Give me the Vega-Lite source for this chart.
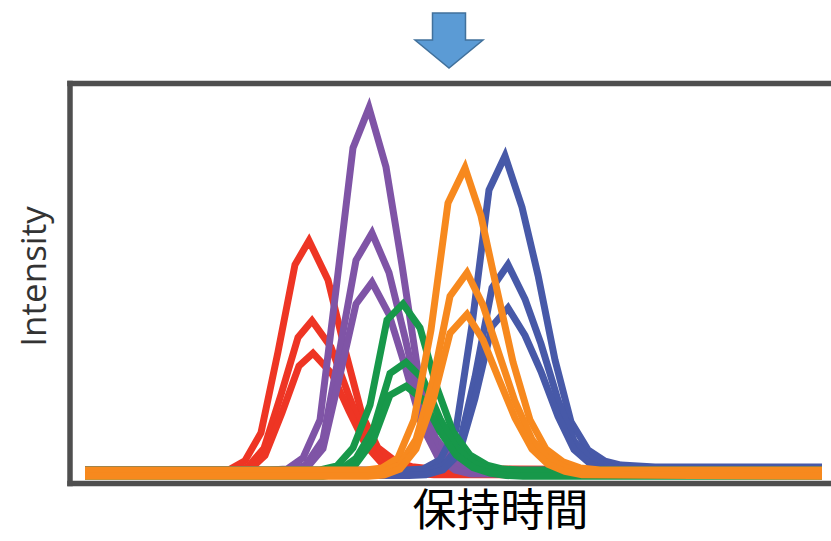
{
  "$schema": "https://vega.github.io/schema/vega-lite/v6.json",
  "width": 761,
  "height": 400,
  "autosize": {"type": "none"},
  "padding": {"left": 70, "top": 83.5, "right": 0, "bottom": 57.5},
  "background": "white",
  "config": {"view": {"stroke": null}},
  "datasets": {
    "traces": [
      {"s":"r1","g":"red","t":1.5,"i":3.4},{"s":"r1","g":"red","t":15.9,"i":3.4},{"s":"r1","g":"red","t":17.5,"i":5.7},{"s":"r1","g":"red","t":19.1,"i":12.7},{"s":"r1","g":"red","t":20.8,"i":32.9},{"s":"r1","g":"red","t":22.5,"i":54.7},{"s":"r1","g":"red","t":23.9,"i":60.7},{"s":"r1","g":"red","t":25.8,"i":50.9},{"s":"r1","g":"red","t":27.5,"i":33.4},{"s":"r1","g":"red","t":29.2,"i":17.2},{"s":"r1","g":"red","t":30.8,"i":8.9},{"s":"r1","g":"red","t":32.5,"i":5.7},{"s":"r1","g":"red","t":34.2,"i":4.2},{"s":"r1","g":"red","t":36.0,"i":3.7},{"s":"r1","g":"red","t":75.2,"i":3.4},
      {"s":"r2","g":"red","t":1.5,"i":2.7},{"s":"r2","g":"red","t":16.2,"i":2.7},{"s":"r2","g":"red","t":17.8,"i":4.2},{"s":"r2","g":"red","t":19.4,"i":8.8},{"s":"r2","g":"red","t":21.1,"i":22.2},{"s":"r2","g":"red","t":22.8,"i":36.5},{"s":"r2","g":"red","t":24.2,"i":40.7},{"s":"r2","g":"red","t":26.1,"i":34.1},{"s":"r2","g":"red","t":27.8,"i":22.5},{"s":"r2","g":"red","t":29.5,"i":11.8},{"s":"r2","g":"red","t":31.1,"i":6.3},{"s":"r2","g":"red","t":32.8,"i":4.2},{"s":"r2","g":"red","t":34.5,"i":3.2},{"s":"r2","g":"red","t":36.3,"i":2.9},{"s":"r2","g":"red","t":75.2,"i":2.7},
      {"s":"r3","g":"red","t":1.5,"i":2.0},{"s":"r3","g":"red","t":16.3,"i":2.0},{"s":"r3","g":"red","t":17.9,"i":3.3},{"s":"r3","g":"red","t":19.5,"i":7.0},{"s":"r3","g":"red","t":21.2,"i":17.7},{"s":"r3","g":"red","t":22.9,"i":29.4},{"s":"r3","g":"red","t":24.3,"i":32.6},{"s":"r3","g":"red","t":26.2,"i":27.4},{"s":"r3","g":"red","t":27.9,"i":18.1},{"s":"r3","g":"red","t":29.6,"i":9.5},{"s":"r3","g":"red","t":31.2,"i":5.0},{"s":"r3","g":"red","t":32.9,"i":3.3},{"s":"r3","g":"red","t":34.6,"i":2.5},{"s":"r3","g":"red","t":36.4,"i":2.2},{"s":"r3","g":"red","t":75.2,"i":2.0},

      {"s":"p1","g":"purple","t":1.5,"i":3.4},{"s":"p1","g":"purple","t":20.0,"i":3.4},{"s":"p1","g":"purple","t":21.7,"i":3.6},{"s":"p1","g":"purple","t":23.3,"i":6.4},{"s":"p1","g":"purple","t":25.0,"i":15.9},{"s":"p1","g":"purple","t":26.6,"i":48.4},{"s":"p1","g":"purple","t":28.3,"i":83.9},{"s":"p1","g":"purple","t":29.9,"i":93.9},{"s":"p1","g":"purple","t":31.6,"i":79.1},{"s":"p1","g":"purple","t":33.2,"i":54.6},{"s":"p1","g":"purple","t":34.9,"i":26.4},{"s":"p1","g":"purple","t":36.5,"i":11.6},{"s":"p1","g":"purple","t":38.2,"i":5.9},{"s":"p1","g":"purple","t":39.8,"i":3.9},{"s":"p1","g":"purple","t":42.0,"i":3.4},{"s":"p1","g":"purple","t":75.2,"i":3.4},
      {"s":"p2","g":"purple","t":1.5,"i":2.7},{"s":"p2","g":"purple","t":20.3,"i":2.7},{"s":"p2","g":"purple","t":22.0,"i":2.9},{"s":"p2","g":"purple","t":23.6,"i":4.7},{"s":"p2","g":"purple","t":25.3,"i":11.0},{"s":"p2","g":"purple","t":26.9,"i":32.4},{"s":"p2","g":"purple","t":28.6,"i":55.8},{"s":"p2","g":"purple","t":30.2,"i":62.6},{"s":"p2","g":"purple","t":31.9,"i":52.7},{"s":"p2","g":"purple","t":33.5,"i":36.5},{"s":"p2","g":"purple","t":35.2,"i":17.9},{"s":"p2","g":"purple","t":36.8,"i":8.1},{"s":"p2","g":"purple","t":38.5,"i":4.4},{"s":"p2","g":"purple","t":40.1,"i":3.0},{"s":"p2","g":"purple","t":75.2,"i":2.7},
      {"s":"p3","g":"purple","t":1.5,"i":2.0},{"s":"p3","g":"purple","t":20.3,"i":2.0},{"s":"p3","g":"purple","t":22.0,"i":2.2},{"s":"p3","g":"purple","t":23.6,"i":3.7},{"s":"p3","g":"purple","t":25.3,"i":8.7},{"s":"p3","g":"purple","t":26.9,"i":26.0},{"s":"p3","g":"purple","t":28.6,"i":44.9},{"s":"p3","g":"purple","t":30.2,"i":50.3},{"s":"p3","g":"purple","t":31.9,"i":42.3},{"s":"p3","g":"purple","t":33.5,"i":29.4},{"s":"p3","g":"purple","t":35.2,"i":14.4},{"s":"p3","g":"purple","t":36.8,"i":6.5},{"s":"p3","g":"purple","t":38.5,"i":3.4},{"s":"p3","g":"purple","t":40.1,"i":2.4},{"s":"p3","g":"purple","t":75.2,"i":2.0},

      {"s":"b1","g":"blue","t":1.5,"i":3.4},{"s":"b1","g":"blue","t":33.6,"i":3.4},{"s":"b1","g":"blue","t":35.3,"i":3.6},{"s":"b1","g":"blue","t":37.0,"i":5.9},{"s":"b1","g":"blue","t":38.6,"i":13.4},{"s":"b1","g":"blue","t":40.2,"i":39.6},{"s":"b1","g":"blue","t":41.9,"i":73.4},{"s":"b1","g":"blue","t":43.5,"i":81.9},{"s":"b1","g":"blue","t":45.2,"i":69.1},{"s":"b1","g":"blue","t":46.8,"i":52.1},{"s":"b1","g":"blue","t":48.5,"i":30.9},{"s":"b1","g":"blue","t":50.1,"i":15.4},{"s":"b1","g":"blue","t":51.8,"i":8.4},{"s":"b1","g":"blue","t":53.5,"i":5.6},{"s":"b1","g":"blue","t":55.1,"i":4.6},{"s":"b1","g":"blue","t":58.5,"i":4.1},{"s":"b1","g":"blue","t":75.2,"i":4.1},
      {"s":"b2","g":"blue","t":1.5,"i":2.7},{"s":"b2","g":"blue","t":33.9,"i":2.7},{"s":"b2","g":"blue","t":35.6,"i":2.9},{"s":"b2","g":"blue","t":37.3,"i":4.4},{"s":"b2","g":"blue","t":38.9,"i":9.3},{"s":"b2","g":"blue","t":40.5,"i":26.6},{"s":"b2","g":"blue","t":42.2,"i":48.9},{"s":"b2","g":"blue","t":43.8,"i":54.7},{"s":"b2","g":"blue","t":45.5,"i":46.1},{"s":"b2","g":"blue","t":47.1,"i":34.9},{"s":"b2","g":"blue","t":48.8,"i":20.9},{"s":"b2","g":"blue","t":50.4,"i":10.6},{"s":"b2","g":"blue","t":52.1,"i":6.0},{"s":"b2","g":"blue","t":53.8,"i":4.2},{"s":"b2","g":"blue","t":55.4,"i":3.5},{"s":"b2","g":"blue","t":58.8,"i":3.2},{"s":"b2","g":"blue","t":75.2,"i":3.2},
      {"s":"b3","g":"blue","t":1.5,"i":2.0},{"s":"b3","g":"blue","t":33.9,"i":2.0},{"s":"b3","g":"blue","t":35.6,"i":2.2},{"s":"b3","g":"blue","t":37.3,"i":3.4},{"s":"b3","g":"blue","t":38.9,"i":7.4},{"s":"b3","g":"blue","t":40.5,"i":21.3},{"s":"b3","g":"blue","t":42.2,"i":39.3},{"s":"b3","g":"blue","t":43.8,"i":43.9},{"s":"b3","g":"blue","t":45.5,"i":37.0},{"s":"b3","g":"blue","t":47.1,"i":28.0},{"s":"b3","g":"blue","t":48.8,"i":16.8},{"s":"b3","g":"blue","t":50.4,"i":8.5},{"s":"b3","g":"blue","t":52.1,"i":4.8},{"s":"b3","g":"blue","t":53.8,"i":3.3},{"s":"b3","g":"blue","t":55.4,"i":2.8},{"s":"b3","g":"blue","t":58.8,"i":2.5},{"s":"b3","g":"blue","t":75.2,"i":2.5},

      {"s":"g1","g":"green","t":1.5,"i":3.4},{"s":"g1","g":"green","t":25.0,"i":3.4},{"s":"g1","g":"green","t":26.7,"i":4.4},{"s":"g1","g":"green","t":28.3,"i":8.9},{"s":"g1","g":"green","t":30.0,"i":19.6},{"s":"g1","g":"green","t":31.7,"i":40.9},{"s":"g1","g":"green","t":33.3,"i":44.9},{"s":"g1","g":"green","t":35.0,"i":38.9},{"s":"g1","g":"green","t":36.7,"i":23.9},{"s":"g1","g":"green","t":38.3,"i":12.9},{"s":"g1","g":"green","t":40.0,"i":7.1},{"s":"g1","g":"green","t":41.7,"i":4.6},{"s":"g1","g":"green","t":43.3,"i":3.6},{"s":"g1","g":"green","t":45.0,"i":3.4},{"s":"g1","g":"green","t":75.2,"i":3.4},
      {"s":"g2","g":"green","t":1.5,"i":2.7},{"s":"g2","g":"green","t":25.3,"i":2.7},{"s":"g2","g":"green","t":27.0,"i":3.4},{"s":"g2","g":"green","t":28.6,"i":6.3},{"s":"g2","g":"green","t":30.3,"i":13.4},{"s":"g2","g":"green","t":32.0,"i":27.5},{"s":"g2","g":"green","t":33.6,"i":30.3},{"s":"g2","g":"green","t":35.3,"i":26.1},{"s":"g2","g":"green","t":37.0,"i":16.2},{"s":"g2","g":"green","t":38.6,"i":9.0},{"s":"g2","g":"green","t":40.3,"i":5.2},{"s":"g2","g":"green","t":42.0,"i":3.5},{"s":"g2","g":"green","t":43.6,"i":2.9},{"s":"g2","g":"green","t":45.3,"i":2.7},{"s":"g2","g":"green","t":75.2,"i":2.7},
      {"s":"g3","g":"green","t":1.5,"i":1.8},{"s":"g3","g":"green","t":25.3,"i":1.8},{"s":"g3","g":"green","t":27.0,"i":2.4},{"s":"g3","g":"green","t":28.6,"i":4.9},{"s":"g3","g":"green","t":30.3,"i":10.7},{"s":"g3","g":"green","t":32.0,"i":22.1},{"s":"g3","g":"green","t":33.6,"i":24.3},{"s":"g3","g":"green","t":35.3,"i":21.0},{"s":"g3","g":"green","t":37.0,"i":13.0},{"s":"g3","g":"green","t":38.6,"i":7.1},{"s":"g3","g":"green","t":40.3,"i":4.0},{"s":"g3","g":"green","t":42.0,"i":2.6},{"s":"g3","g":"green","t":43.6,"i":2.0},{"s":"g3","g":"green","t":45.3,"i":1.8},{"s":"g3","g":"green","t":75.2,"i":1.8},

      {"s":"o1","g":"orange","t":1.5,"i":3.4},{"s":"o1","g":"orange","t":29.6,"i":3.4},{"s":"o1","g":"orange","t":31.2,"i":3.9},{"s":"o1","g":"orange","t":32.8,"i":6.4},{"s":"o1","g":"orange","t":34.4,"i":15.9},{"s":"o1","g":"orange","t":36.1,"i":38.4},{"s":"o1","g":"orange","t":37.8,"i":70.1},{"s":"o1","g":"orange","t":39.5,"i":78.9},{"s":"o1","g":"orange","t":41.1,"i":66.9},{"s":"o1","g":"orange","t":42.7,"i":48.4},{"s":"o1","g":"orange","t":44.3,"i":30.4},{"s":"o1","g":"orange","t":46.0,"i":15.9},{"s":"o1","g":"orange","t":47.6,"i":8.6},{"s":"o1","g":"orange","t":49.3,"i":5.4},{"s":"o1","g":"orange","t":51.0,"i":3.9},{"s":"o1","g":"orange","t":53.0,"i":3.4},{"s":"o1","g":"orange","t":75.2,"i":3.4},
      {"s":"o2","g":"orange","t":1.5,"i":2.7},{"s":"o2","g":"orange","t":29.8,"i":2.7},{"s":"o2","g":"orange","t":31.4,"i":3.0},{"s":"o2","g":"orange","t":33.0,"i":4.7},{"s":"o2","g":"orange","t":34.6,"i":11.0},{"s":"o2","g":"orange","t":36.3,"i":25.8},{"s":"o2","g":"orange","t":38.0,"i":46.8},{"s":"o2","g":"orange","t":39.7,"i":52.7},{"s":"o2","g":"orange","t":41.3,"i":44.6},{"s":"o2","g":"orange","t":42.9,"i":32.4},{"s":"o2","g":"orange","t":44.5,"i":20.5},{"s":"o2","g":"orange","t":46.2,"i":11.0},{"s":"o2","g":"orange","t":47.8,"i":6.2},{"s":"o2","g":"orange","t":49.5,"i":4.0},{"s":"o2","g":"orange","t":51.2,"i":3.0},{"s":"o2","g":"orange","t":75.2,"i":2.7},
      {"s":"o3","g":"orange","t":1.5,"i":1.8},{"s":"o3","g":"orange","t":29.8,"i":1.8},{"s":"o3","g":"orange","t":31.4,"i":2.1},{"s":"o3","g":"orange","t":33.0,"i":3.6},{"s":"o3","g":"orange","t":34.6,"i":8.6},{"s":"o3","g":"orange","t":36.3,"i":20.7},{"s":"o3","g":"orange","t":38.0,"i":37.6},{"s":"o3","g":"orange","t":39.7,"i":42.3},{"s":"o3","g":"orange","t":41.3,"i":35.9},{"s":"o3","g":"orange","t":42.9,"i":26.0},{"s":"o3","g":"orange","t":44.5,"i":16.4},{"s":"o3","g":"orange","t":46.2,"i":8.6},{"s":"o3","g":"orange","t":47.8,"i":4.8},{"s":"o3","g":"orange","t":49.5,"i":3.0},{"s":"o3","g":"orange","t":51.2,"i":2.2},{"s":"o3","g":"orange","t":75.2,"i":1.8}
    ]
  },
  "layer": [
    {
      "data": {"name": "traces"},
      "mark": {"type": "line", "strokeWidth": 7, "strokeJoin": "miter"},
      "encoding": {
        "x": {
          "field": "t", "type": "quantitative",
          "scale": {"domain": [0, 76.1], "nice": false, "zero": false},
          "axis": {
            "title": "保持時間", "labels": false, "ticks": false, "domain": false, "grid": false,
            "titleFont": "Noto Sans CJK JP", "titleFontSize": 44, "titleFontWeight": "normal",
            "titleColor": "#000000", "titleX": 430, "titleY": 29,
            "titleAlign": "center", "titleBaseline": "middle"
          }
        },
        "y": {
          "field": "i", "type": "quantitative",
          "scale": {"domain": [0, 100], "nice": false, "zero": false},
          "axis": {
            "title": "Intensity", "labels": false, "ticks": false, "domain": false, "grid": false,
            "titleFont": "Open Sans", "titleFontSize": 35, "titleFontWeight": "normal",
            "titleColor": "#333333", "titleX": -36, "titleY": 192.5, "titleAngle": -90,
            "titleAlign": "center", "titleBaseline": "middle"
          }
        },
        "color": {
          "field": "g", "type": "nominal",
          "scale": {
            "domain": ["red", "purple", "blue", "green", "orange"],
            "range": ["#ee3524", "#7f54a6", "#4759a8", "#17984a", "#f7891e"]
          },
          "legend": null
        },
        "detail": {"field": "s", "type": "nominal"}
      }
    },
    {
      "data": {"values": [{}]},
      "mark": {"type": "rule", "color": "#4f4f4f", "strokeWidth": 5.5, "strokeCap": "square"},
      "encoding": {"y": {"datum": 100}}
    },
    {
      "data": {"values": [{}]},
      "mark": {"type": "rule", "color": "#4f4f4f", "strokeWidth": 5.5, "strokeCap": "square"},
      "encoding": {"y": {"datum": 0}}
    },
    {
      "data": {"values": [{}]},
      "mark": {"type": "rule", "color": "#4f4f4f", "strokeWidth": 5.5, "strokeCap": "square"},
      "encoding": {"x": {"datum": 0}}
    },
    {
      "data": {"values": [{"t": 37.9, "i": 110.6}]},
      "mark": {
        "type": "point",
        "shape": "M-0.485,-0.826L0.485,-0.826L0.485,-0.032L1,-0.032L0,0.79L-1,-0.032L-0.485,-0.032Z",
        "size": 4624, "filled": true, "fill": "#5b9bd5", "stroke": "#41719c",
        "strokeWidth": 1.5, "opacity": 1
      },
      "encoding": {
        "x": {"field": "t", "type": "quantitative"},
        "y": {"field": "i", "type": "quantitative"}
      }
    }
  ]
}
